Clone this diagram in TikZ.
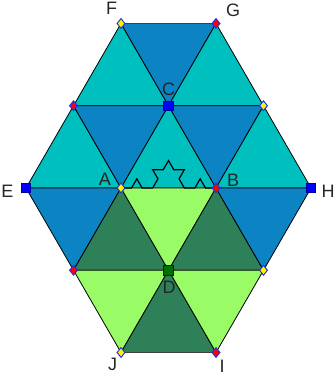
\documentclass[tikz,border=0pt]{standalone}
\usepackage{fontspec}
\setmainfont{Liberation Sans}
\usetikzlibrary{shapes.geometric}
\definecolor{tealtile}{HTML}{00BFBF}
\definecolor{bluetile}{HTML}{0C84C4}
\definecolor{lgtile}{HTML}{99FC66}
\definecolor{dgtile}{HTML}{2E8058}
\definecolor{ptblue}{HTML}{0000FF}
\definecolor{ptedge}{HTML}{2030E0}
\definecolor{ptgreen}{HTML}{007000}
\tikzset{
  tile/.style={draw=black, line width=0.6pt, line join=round},
  tealtri/.style={tile, fill=tealtile},
  bluetri/.style={tile, fill=bluetile},
  lgtri/.style={tile, fill=lgtile},
  dgtri/.style={tile, fill=dgtile},
  rim/.style={draw=black!75, line width=1.4pt},
  koch/.style={draw=black, line width=0.9pt, line join=miter},
  yelpt/.style={diamond, draw=ptedge, fill=yellow, line width=0.7pt,
    minimum width=6.2pt, minimum height=7.6pt, inner sep=0pt},
  redpt/.style={yelpt, fill=red},
  sqpt/.style={rectangle, draw=black!40!ptblue, fill=ptblue, line width=0.6pt,
    minimum size=7pt, inner sep=0pt},
  greenpt/.style={sqpt, draw=black!60!ptgreen, fill=ptgreen},
  lbl/.style={font=\fontsize{13.5}{15}\selectfont, text=black!85, inner sep=0pt}
}
\begin{document}
\begin{tikzpicture}[x=0.75pt,y=0.75pt]
\useasboundingbox (0,0) rectangle (333,377);
% lattice points
\coordinate (F) at (121,353.5);   \coordinate (G) at (216,353.5);
\coordinate (ul) at (73.5,271.25); \coordinate (C) at (168.5,271.25); \coordinate (ur) at (263.5,271.25);
\coordinate (E) at (26,189);      \coordinate (A) at (121,189);
\coordinate (B) at (216,189);     \coordinate (H) at (311,189);
\coordinate (ll) at (73.5,106.75); \coordinate (D) at (168.5,106.75); \coordinate (lr) at (263.5,106.75);
\coordinate (J) at (121,24.5);    \coordinate (I) at (216,24.5);

% tiles
\foreach \a/\b/\c/\st in {F/ul/C/tealtri,F/G/C/bluetri,G/C/ur/tealtri,
    ul/E/A/tealtri,ul/C/A/bluetri,C/A/B/tealtri,C/ur/B/bluetri,ur/B/H/tealtri,
    E/A/ll/bluetri,A/ll/D/dgtri,A/B/D/lgtri,B/D/lr/dgtri,B/H/lr/bluetri,
    ll/D/J/lgtri,D/J/I/dgtri,D/lr/I/lgtri}
  \filldraw[\st] (\a)--(\b)--(\c)--cycle;
\draw[rim] (F)--(G);
\draw[rim] (J)--(I);

% Koch curve on AB
\def\k{10.5556}
\draw[koch] (A) \foreach \d in {0,60,-60,0,60,120,0,60,-60,0,-120,-60,0,60,-60,0} { -- ++(\d:\k) };

% points
\foreach \p in {F,ur,A,lr,J} \node[yelpt] (\p pt) at (\p) {};
\foreach \p in {G,ul,B,ll,I} \node[redpt] (\p pt) at (\p) {};
\foreach \p in {C,E,H} \node[sqpt] (\p pt) at (\p) {};
\node[greenpt] (Dpt) at (D) {};

% labels
\foreach \x/\y/\t in {111.5/368.5/F,233/367/G,168.5/287.5/C,7.5/185.5/E,105/198/A,
    233/197/B,328/185.5/H,169/89.5/D,112.5/13/J,222/10.5/I}
  \node[lbl] (lab\t) at (\x,\y) {\t};
\end{tikzpicture}
\end{document}
